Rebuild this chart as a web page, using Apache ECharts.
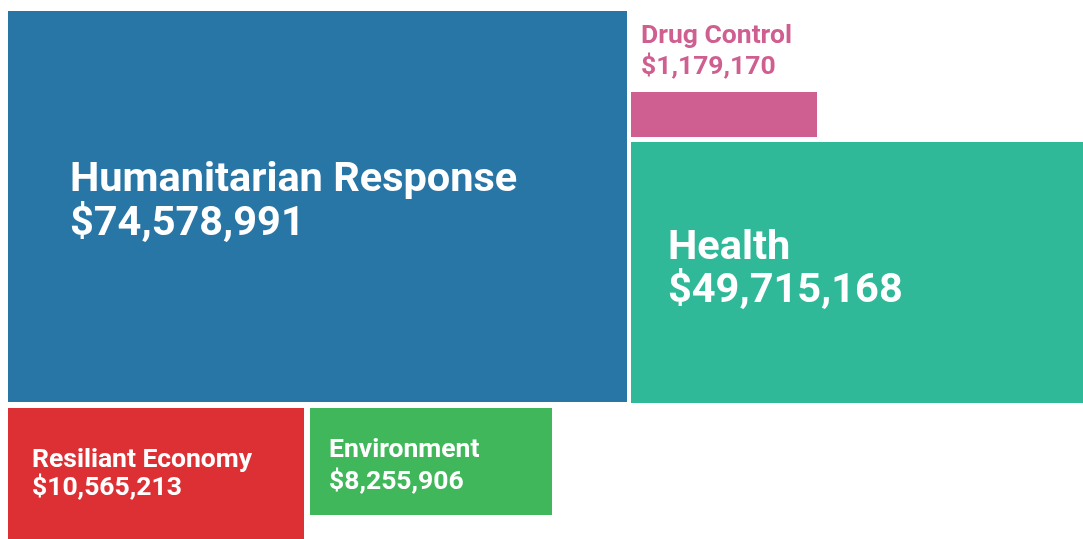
<!DOCTYPE html>
<html>
<head>
<meta charset="utf-8">
<style>html,body{margin:0;padding:0;background:#fff}#c{width:1083px;height:539px}</style>
<script src="https://cdn.jsdelivr.net/npm/echarts@6/dist/echarts.min.js"></script>
</head>
<body>
<div id="c"></div>
<script>
// ---- data ----
const categories = ['Humanitarian Response', 'Health', 'Resiliant Economy', 'Environment', 'Drug Control'];
const values = [74578991, 49715168, 10565213, 8255906, 1179170];
const colors = ['#2876a6', '#30b998', '#dd3035', '#41b75b', '#cf5f91'];

// ---- layout (box extents and label anchors in chart units) ----
const boxX0 = [8, 631, 8, 310, 631];
const boxX1 = [627, 1083, 304, 552, 817];
const boxY0 = [11, 142, 408, 408, 92];
const boxY1 = [402, 403, 539, 515, 137];
const labelX = [70, 668, 32, 329, 641];
const labelY1 = [181, 249, 460, 450, 36];
const labelY2 = [225, 292, 488, 482, 67];
const fontSizes = [41.5, 41.5, 26.5, 26.5, 26.5];
const labelColors = ['#fff', '#fff', '#fff', '#fff', '#cf5f91'];

const fmt = v => '$' + v.toLocaleString('en-US');

const seriesData = categories.map((c, i) => ({
  name: c,
  value: [boxX0[i], boxX1[i], boxY0[i], boxY1[i], values[i], labelX[i], labelY1[i], labelY2[i], i]
}));

const chart = echarts.init(document.getElementById('c'), null, {renderer: 'canvas'});
chart.setOption({
  animation: false,
  grid: {left: 0, right: 0, top: 0, bottom: 0},
  xAxis: {type: 'value', min: 0, max: 1083, show: false},
  yAxis: {type: 'value', min: 0, max: 539, inverse: true, show: false},
  series: [{
    type: 'custom',
    data: seriesData,
    encode: {x: [0, 1, 5], y: [2, 3, 6, 7]},
    renderItem: function (params, api) {
      const i = api.value(8);
      const p0 = api.coord([api.value(0), api.value(2)]);
      const p1 = api.coord([api.value(1), api.value(3)]);
      const l1 = api.coord([api.value(5), api.value(6)]);
      const l2 = api.coord([api.value(5), api.value(7)]);
      const fs = fontSizes[i];
      const font = 'bold ' + fs + 'px Roboto';
      return {
        type: 'group',
        children: [
          {type: 'rect', shape: {x: p0[0], y: p0[1], width: p1[0] - p0[0], height: p1[1] - p0[1]},
           style: {fill: colors[i]}},
          {type: 'text', x: l1[0], y: l1[1], style: {text: categories[i], font: font, fill: labelColors[i], verticalAlign: 'middle', align: 'left'}},
          {type: 'text', x: l2[0], y: l2[1], style: {text: fmt(api.value(4)), font: font, fill: labelColors[i], verticalAlign: 'middle', align: 'left'}}
        ]
      };
    }
  }]
});
</script>
</body>
</html>
